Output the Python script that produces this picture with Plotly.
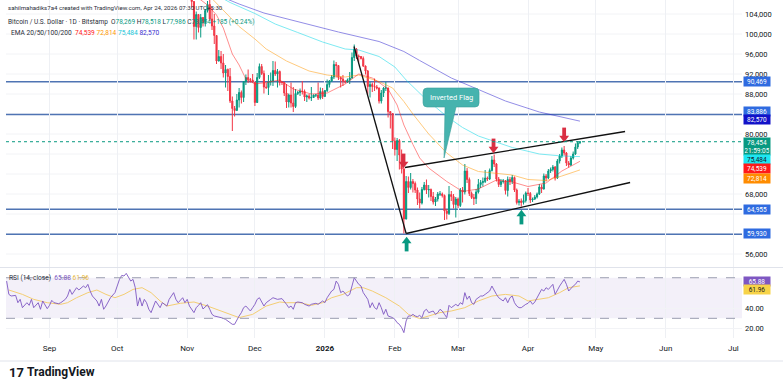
import plotly.graph_objects as go
import pandas as pd

W, H = 783, 388
FONT = "Roboto, 'Liberation Sans', Arial, sans-serif"

# ---------------- data: daily BTC/USD candles (thousands USD) ----------------
candle_start = "2025-11-01"
first_open_k = 109.6
closes_k = [
    110.1, 110.6, 106.5, 101.5, 103.9, 101.3, 103.3, 102.3, 104.7, 105.9, 103.0, 101.6, 99.7, 94.6, 95.5,
    94.2, 92.2, 92.9, 91.5, 86.6, 85.1, 84.7, 86.8, 88.3, 87.3, 90.5, 91.3, 90.9, 90.8, 90.4,
    86.3, 91.3, 93.5, 92.1, 89.4, 89.3, 90.4, 90.6, 92.7, 92.0, 92.5, 90.3, 90.3, 88.2, 86.4, 87.8,
    86.2, 85.5, 88.1, 88.3, 88.6, 88.5, 87.4, 87.6, 87.2, 87.3, 87.8, 87.8, 87.2, 88.5, 87.5,
    88.7, 89.9, 90.6, 91.4, 93.9, 93.7, 91.3, 91.0, 90.5, 90.4, 90.8, 91.2, 95.3, 97.0, 95.6, 95.5,
    95.1, 93.6, 92.6, 89.5, 89.9, 89.5, 89.4, 89.2, 86.6, 88.2, 89.2, 89.2, 84.5, 84.1, 78.6,
    76.9, 78.7, 75.8, 73.0, 63.0, 70.5, 69.3, 70.5, 70.1, 68.8, 67.0, 66.2, 68.9, 69.8, 68.8, 68.9,
    67.5, 66.4, 67.0, 68.0, 68.0, 67.7, 64.6, 64.1, 67.9, 67.5, 65.9, 67.0,
    65.7, 68.8, 68.4, 72.6, 70.9, 68.1, 67.3, 67.1, 68.4, 69.9, 70.3, 70.5, 71.2, 71.0, 72.7, 74.8,
    74.0, 71.0, 69.9, 70.5, 70.6, 68.7, 70.9, 70.5, 71.3, 68.8, 66.3, 66.6, 66.3, 66.7, 68.2,
    68.1, 66.8, 67.0, 67.4, 68.0, 69.4, 69.0, 71.6, 71.2, 72.6, 72.9, 73.4, 71.2, 74.6, 75.6, 76.8,
    76.2, 74.2, 73.8, 75.2, 76.0, 77.4, 78.269, 78.454,
]
highs_k = [
    110.6, 111.2, 110.8, 106.6, 104.5, 104.0, 104.0, 103.4, 105.0, 106.6, 107.0, 105.3, 104.0, 99.8, 96.8,
    96.6, 96.0, 93.8, 93.1, 93.2, 87.5, 85.6, 88.0, 89.2, 88.7, 90.6, 91.9, 92.9, 91.2, 92.0,
    90.4, 92.2, 94.1, 94.0, 92.7, 90.2, 91.8, 92.3, 94.6, 94.5, 93.0, 92.7, 90.6, 90.5, 90.0, 88.1,
    90.3, 89.4, 89.0, 88.6, 89.1, 90.6, 88.9, 87.9, 88.0, 89.4, 87.9, 88.0, 90.3, 89.3, 89.2,
    88.8, 90.9, 90.8, 91.8, 94.7, 94.4, 93.7, 91.5, 91.8, 90.8, 91.1, 92.4, 96.3, 97.9, 97.2, 95.9,
    95.6, 95.5, 93.7, 92.8, 90.4, 90.3, 91.1, 89.8, 89.3, 88.8, 89.4, 90.4, 89.3, 84.5, 84.2,
    79.3, 79.2, 79.0, 76.9, 73.3, 71.6, 71.5, 72.2, 71.0, 70.5, 69.3, 68.3, 69.4, 70.4, 70.9, 69.8,
    69.1, 68.4, 67.4, 68.4, 68.6, 68.3, 67.9, 65.0, 69.6, 68.6, 68.0, 67.4,
    67.3, 69.2, 69.4, 74.0, 73.2, 71.3, 68.5, 68.0, 69.0, 71.0, 70.8, 71.3, 72.8, 71.5, 73.1, 75.6,
    75.9, 74.2, 71.4, 71.0, 71.0, 70.8, 71.5, 71.4, 71.8, 71.5, 69.1, 67.0, 67.1, 67.9, 68.5,
    69.2, 68.4, 67.3, 67.8, 68.3, 70.0, 69.9, 72.1, 72.0, 73.0, 73.3, 73.8, 73.6, 75.0, 76.0, 77.3,
    77.6, 76.4, 74.6, 75.6, 76.5, 78.1, 78.6, 78.518,
]
lows_k = [
    109.4, 109.6, 105.3, 98.9, 98.9, 100.3, 99.3, 101.5, 101.5, 104.3, 102.6, 100.8, 98.0, 94.0, 94.5,
    93.0, 91.3, 89.3, 88.6, 86.2, 80.6, 83.5, 84.7, 85.3, 86.1, 86.4, 89.8, 90.2, 90.3, 90.3,
    85.6, 86.2, 91.0, 91.8, 88.1, 89.0, 87.8, 89.7, 89.6, 91.6, 89.3, 89.7, 89.8, 87.6, 85.2, 85.3,
    85.3, 84.4, 85.2, 87.8, 87.6, 87.9, 86.6, 86.4, 86.9, 86.6, 87.2, 87.4, 86.8, 86.9, 87.0,
    87.4, 88.4, 89.3, 90.4, 91.0, 91.3, 90.8, 89.3, 89.6, 90.1, 90.2, 90.0, 91.1, 94.6, 95.0, 94.3,
    94.9, 93.4, 91.9, 87.9, 87.3, 88.4, 88.6, 88.9, 86.1, 86.1, 87.4, 88.6, 83.3, 81.1, 77.0,
    75.7, 74.6, 72.9, 72.1, 60.1, 62.9, 68.2, 68.9, 68.3, 68.2, 65.8, 65.1, 65.9, 68.7, 68.0, 67.3,
    66.6, 65.9, 65.6, 66.5, 67.6, 67.3, 62.8, 62.9, 63.8, 66.6, 65.1, 63.3,
    65.2, 65.4, 66.3, 67.9, 70.2, 67.6, 67.0, 65.8, 66.0, 68.1, 69.2, 69.5, 70.2, 70.6, 70.8, 72.5,
    73.4, 70.5, 69.4, 69.4, 70.1, 67.9, 67.5, 69.8, 70.0, 68.4, 65.9, 65.7, 65.5, 65.9, 66.3,
    67.6, 66.2, 66.4, 66.8, 67.1, 67.8, 68.2, 68.9, 70.5, 71.0, 72.2, 72.5, 70.7, 71.0, 74.1, 75.2,
    75.7, 73.6, 73.3, 73.6, 74.9, 75.8, 77.0, 77.98,
]

# ---------------- EMA lines (thousands USD) ----------------
ema20_dates = ["2025-11-05", "2025-11-10", "2025-11-14", "2025-11-17", "2025-11-21", "2025-11-24", "2025-11-27",
               "2025-12-01", "2025-12-06", "2025-12-12", "2025-12-18", "2025-12-26", "2026-01-02", "2026-01-10",
               "2026-01-16", "2026-01-22", "2026-01-25", "2026-01-29", "2026-02-02", "2026-02-05", "2026-02-09",
               "2026-02-12", "2026-02-16", "2026-02-24", "2026-03-03", "2026-03-10", "2026-03-18", "2026-03-25",
               "2026-04-01", "2026-04-09", "2026-04-16", "2026-04-24"]
ema20_k = [107.5, 105.8, 103.8, 101.2, 96.0, 93.8, 91.0, 90.0, 90.3, 90.8, 89.0, 88.0, 88.2, 90.0,
           92.0, 91.2, 90.3, 89.0, 85.8, 81.8, 77.9, 75.2, 73.2, 70.5, 68.5, 69.0, 70.8, 70.4,
           69.5, 70.2, 72.6, 74.539]
ema50_dates = ["2025-11-10", "2025-11-17", "2025-11-24", "2025-12-01", "2025-12-06", "2025-12-15", "2025-12-25",
               "2026-01-02", "2026-01-10", "2026-01-16", "2026-01-25", "2026-01-31", "2026-02-05", "2026-02-09",
               "2026-02-16", "2026-02-24", "2026-03-03", "2026-03-10", "2026-03-18", "2026-03-25", "2026-04-01",
               "2026-04-09", "2026-04-16", "2026-04-24"]
ema50_k = [108.0, 104.8, 101.5, 99.0, 97.0, 94.6, 92.6, 91.8, 91.4, 91.8, 90.5, 89.2, 86.5, 84.0,
           80.0, 76.2, 73.8, 72.5, 72.2, 71.8, 70.9, 70.7, 71.6, 72.814]
ema100_dates = ["2025-11-05", "2025-11-20", "2025-12-01", "2025-12-10", "2025-12-20", "2025-12-31", "2026-01-10",
                "2026-01-16", "2026-01-25", "2026-02-01", "2026-02-06", "2026-02-14", "2026-02-24", "2026-03-03",
                "2026-03-10", "2026-03-18", "2026-03-25", "2026-04-06", "2026-04-16", "2026-04-24"]
ema100_k = [110.0, 106.3, 104.1, 102.0, 100.3, 98.4, 97.0, 96.8, 95.5, 93.4, 90.8, 87.3, 83.5, 81.3,
            79.6, 78.3, 77.3, 76.0, 75.6, 75.484]
ema200_dates = ["2025-11-10", "2025-11-24", "2025-12-05", "2025-12-21", "2026-01-07", "2026-01-25", "2026-02-05",
                "2026-02-12", "2026-02-26", "2026-03-10", "2026-03-22", "2026-04-06", "2026-04-24"]
ema200_k = [108.6, 106.0, 104.2, 102.3, 100.4, 98.5, 96.5, 94.7, 91.2, 88.9, 86.6, 84.4, 82.57]

rsi_origin = "2025-09-01"          # day offsets below are counted from this date
rsi_days = [-19, -18, -17, -15, -14, -13, -12, -10, -9, -8, -7, -5, -4, -3, -1, 0, 1, 2, 4, 5, 7, 8, 9, 10, 11, 12,
            13, 15, 16, 17, 18, 19, 21, 22, 23, 24, 25, 26, 27, 29, 30, 31, 32, 33, 34, 36, 37, 38, 39, 40, 41,
            42, 43, 44, 45, 46, 47, 49, 50, 52, 53, 54, 55, 56, 57, 59, 60, 61, 62, 64, 65, 66, 67, 68, 70, 71,
            72, 73, 75, 76, 78, 79, 81, 82, 83, 84, 85, 86, 87, 89, 90, 91, 92, 93, 95, 96, 98, 99, 101,
            103, 105, 106, 107, 108, 109, 110, 112, 113, 115, 116, 118, 119, 121, 122, 123, 124, 125, 126, 127,
            128, 129, 130, 132, 133, 134, 135, 136, 137, 138, 139, 141, 142, 143, 144, 145, 146, 147, 148, 149,
            150, 152, 153, 154, 155, 156, 157, 158, 159, 160, 161, 162, 163, 164, 165, 166, 167, 168, 170, 171,
            172, 173, 174, 175, 176, 177, 178, 180, 181, 182, 183, 184, 185, 186, 187, 188, 189, 191, 192, 193,
            195, 196, 197, 198, 199, 201, 202, 203, 204, 205, 206, 207, 208, 209, 211, 212, 213, 214, 215, 216,
            217, 218, 219, 220, 221, 223, 224, 225, 226, 227, 228, 229, 230, 232, 233, 234, 235]
rsi_vals = [66.7, 53.6, 52.0, 52.6, 45.4, 48.7, 40.5, 45.4, 42.8, 48.7, 40.5, 45.4, 38.9, 47.1, 39.5, 42.8, 47.7,
            45.4, 44.4, 45.4, 48.7, 52.0, 58.5, 53.6, 56.9, 60.2, 57.9, 61.8, 60.2, 63.5, 56.9, 52.0, 47.1,
            42.1, 48.7, 38.9, 42.1, 47.1, 50.3, 55.3, 61.8, 68.4, 72.3, 71.7, 74.3, 66.7, 68.4, 60.2, 42.1,
            50.3, 42.1, 48.7, 45.4, 38.9, 35.6, 42.1, 47.1, 40.5, 45.4, 42.1, 48.7, 52.0, 55.3, 48.7, 45.4,
            50.3, 45.4, 48.7, 42.1, 35.6, 40.5, 42.8, 45.4, 39.2, 43.4, 38.9, 33.9, 32.3, 31.6, 30.7, 29.0,
            27.4, 24.1, 24.1, 29.0, 32.3, 35.6, 40.5, 42.1, 37.2, 40.5, 43.8, 48.7, 50.3, 42.1, 45.4, 48.7,
            50.3, 48.7,
            49.4, 43.8, 40.5, 42.1, 38.9, 45.4, 46.1, 45.4, 43.8, 42.1, 43.8, 44.8, 43.8, 47.1, 45.4, 50.3,
            53.6, 56.9, 58.5, 66.7, 63.5, 55.3, 56.9, 52.0, 53.6, 61.8, 70.0, 66.7, 63.5, 61.8, 55.3, 48.7,
            40.5, 45.4, 40.5, 38.9, 45.4, 40.5, 33.9, 38.9, 32.3, 30.7, 29.0, 25.7, 24.1, 20.8, 15.9, 27.4,
            32.3, 32.3, 33.9, 32.3, 31.6, 32.9, 30.7, 37.2, 38.9, 35.6, 37.2, 33.9, 35.6, 38.9, 37.2, 33.9,
            30.7, 42.8, 40.5, 43.8, 42.1, 45.4, 43.8, 55.3, 48.7, 52.0, 45.4, 43.8, 48.7, 52.0, 52.0, 53.6,
            56.9, 61.8, 56.9, 53.6, 50.3, 47.1, 50.3, 45.4, 50.3, 52.0, 45.4, 42.1, 40.5, 40.5, 43.8, 44.8,
            47.1, 43.8, 46.1, 50.3, 55.3, 58.5, 56.9, 60.2, 58.5, 63.5, 53.6, 58.5, 61.8, 65.1, 68.4, 63.5,
            56.9, 61.8, 63.5, 66.7, 65.88]
rsima_days = [-18, -12, -7, -1, 5, 8, 12, 17, 21, 25, 29, 33, 37, 41, 45, 49, 52, 58, 64, 70, 76, 82, 84, 90, 96,
              102, 105, 111, 116, 121, 125, 130, 136, 139, 143, 149, 155, 159, 164, 168, 173, 178, 184, 190,
              196, 202, 208, 212, 217, 221, 226, 230, 235]
rsima_vals = [57.9, 53.6, 48.7, 45.4, 43.8, 45.4, 50.3, 55.3, 57.9, 53.6, 50.3, 53.6, 58.5, 60.2, 55.3, 47.1,
              42.1, 44.8, 46.1, 42.1, 37.2, 32.3, 30.7, 33.9, 42.1, 46.1, 45.4, 45.4, 42.8, 45.4, 50.3, 53.6,
              60.2, 60.2, 56.9, 50.3, 42.1, 33.9, 29.7, 32.3, 35.6, 37.2, 40.5, 47.1, 52.0, 53.6, 52.0, 47.1,
              48.7, 50.3, 55.3, 60.2, 61.96]

# ---------------- levels, labels, ticks ----------------
level_prices = [90469, 83886, 64955, 59930]
last_close = 78454
ema_last = [74539, 72814, 75484, 82570]
rsi_last, rsima_last = 65.88, 61.96

month_ticks = ["2025-09-01", "2025-10-01", "2025-11-01", "2025-12-01", "2026-01-01", "2026-02-01",
               "2026-03-01", "2026-04-01", "2026-05-01", "2026-06-01", "2026-07-01"]
month_labels = ["Sep", "Oct", "Nov", "Dec", "<b>2026</b>", "Feb", "Mar", "Apr", "May", "Jun", "Jul"]
grid_prices = [56000, 60000, 64000, 68000, 72000, 76000, 80000, 84000, 88000, 92000, 96000, 100000, 104000]
price_ticks = [56000, 68000, 80000, 88000, 92000, 96000, 100000, 104000]   # others hidden by price labels
rsi_ticks = [20, 40]

# ---------------- drawings (date, price) ----------------
steep_line_x = ["2026-01-13 22:00", "2026-02-06 00:00"]
steep_line_y = [97500, 60100]
flag_upper_x = ["2026-02-05 12:00", "2026-05-14 00:00"]
flag_upper_y = [73300, 80500]
flag_lower_x = ["2026-02-06 00:00", "2026-05-16 05:00"]
flag_lower_y = [60100, 70300]
down_arrow_x = ["2026-02-04 20:00", "2026-03-16 17:00", "2026-04-17 00:00"]
down_arrow_tip = [73200, 76200, 78400]
up_arrow_x = ["2026-02-06 05:00", "2026-03-29 02:00"]
up_arrow_tip = [59400, 64800]
callout_tip = ("2026-02-22 19:00", 75200)

# ---------------- colours ----------------
UP, DN = "#089981", "#f23645"
GRID = "#eef0f4"
LEVEL = "#4f74b3"
C20, C50, C100, C200 = "#ff2020", "#ff9800", "#00d8e8", "#2a1fd0"

# ---------------- pane geometry ----------------
PRICE_RANGE = [53400, 106800]
PRICE_PANE_PX = 267
PRICE_PER_PX = (PRICE_RANGE[1] - PRICE_RANGE[0]) / PRICE_PANE_PX

# ---------------- build ----------------
dates = pd.date_range(candle_start, periods=len(closes_k), freq="D")
closes = [c * 1000 for c in closes_k]
highs = [h * 1000 for h in highs_k]
lows = [l * 1000 for l in lows_k]
opens = [first_open_k * 1000] + closes[:-1]

rsi_x = pd.Timestamp(rsi_origin) + pd.to_timedelta(rsi_days, unit="D")
rsima_x = pd.Timestamp(rsi_origin) + pd.to_timedelta(rsima_days, unit="D")

fig = go.Figure()

for d, v, c in [(ema200_dates, ema200_k, C200), (ema100_dates, ema100_k, C100),
                (ema50_dates, ema50_k, C50), (ema20_dates, ema20_k, C20)]:
    fig.add_trace(go.Scatter(x=d, y=[k * 1000 for k in v], mode="lines", line=dict(color=c, width=1),
                             opacity=0.5, xaxis="x", yaxis="y", hoverinfo="skip"))

fig.add_trace(go.Candlestick(
    x=dates, open=opens, high=highs, low=lows, close=closes, whiskerwidth=0,
    increasing=dict(line=dict(color=UP, width=1), fillcolor=UP),
    decreasing=dict(line=dict(color=DN, width=1), fillcolor=DN),
    xaxis="x", yaxis="y", hoverinfo="skip"))

for lx, ly in [(steep_line_x, steep_line_y), (flag_upper_x, flag_upper_y), (flag_lower_x, flag_lower_y)]:
    fig.add_trace(go.Scatter(x=lx, y=ly, mode="lines", line=dict(color="#111111", width=1.3),
                             xaxis="x", yaxis="y", hoverinfo="skip"))


def add_arrows(xs, tips, direction, color):
    s = 1 if direction == "down" else -1
    head_y = [t + s * 4 * PRICE_PER_PX for t in tips]
    stem_y = [t + s * 9.5 * PRICE_PER_PX for t in tips]
    fig.add_trace(go.Scatter(x=xs, y=stem_y, mode="markers", xaxis="x", yaxis="y", hoverinfo="skip",
                             marker=dict(symbol="line-ns", size=7, line=dict(color=color, width=3.8))))
    fig.add_trace(go.Scatter(x=xs, y=head_y, mode="markers", xaxis="x", yaxis="y", hoverinfo="skip",
                             marker=dict(symbol="triangle-down" if s == 1 else "triangle-up", size=8.5,
                                         color=color, line=dict(width=0))))


add_arrows(down_arrow_x, down_arrow_tip, "down", "#d92f43")
add_arrows(up_arrow_x, up_arrow_tip, "up", "#089981")

fig.add_trace(go.Scatter(x=rsima_x, y=rsima_vals, mode="lines", line=dict(color="#f5c95c", width=1),
                         opacity=0.85, xaxis="x2", yaxis="y2", hoverinfo="skip"))
fig.add_trace(go.Scatter(x=rsi_x, y=rsi_vals, mode="lines", line=dict(color="#7e57c2", width=0.9),
                         xaxis="x2", yaxis="y2", hoverinfo="skip"))

shapes = []
for gp in grid_prices:
    shapes.append(dict(type="line", xref="x domain", yref="y", x0=0, x1=1, y0=gp, y1=gp,
                       line=dict(color="#f2f3f6", width=1), layer="below"))
for lv in level_prices:
    shapes.append(dict(type="line", xref="x domain", yref="y", x0=0, x1=1, y0=lv, y1=lv,
                       line=dict(color=LEVEL, width=1.5), layer="below"))
shapes.append(dict(type="line", xref="x domain", yref="y", x0=0, x1=1, y0=last_close, y1=last_close,
                   line=dict(color=UP, width=1, dash="dot")))
shapes.append(dict(type="rect", xref="x2 domain", yref="y2", x0=0, x1=1, y0=30, y1=70,
                   fillcolor="rgba(126,87,194,0.09)", line=dict(width=0), layer="below"))
for lv in (30, 70):
    shapes.append(dict(type="line", xref="x2 domain", yref="y2", x0=0, x1=1, y0=lv, y1=lv,
                       line=dict(color="#9a9cb0", width=1, dash="dash")))
shapes.append(dict(type="line", xref="paper", yref="paper", x0=0, x1=1, y0=1 - 267.5 / H, y1=1 - 267.5 / H,
                   line=dict(color="#e0e3eb", width=1)))
shapes.append(dict(type="line", xref="paper", yref="paper", x0=0, x1=1, y0=1 - 361 / H, y1=1 - 361 / H,
                   line=dict(color="#e0e3eb", width=1)))

L, R, B, T, r = -21, 35, 51, 70, 4
callout = (f"M{L + r},{B} L1,{B} L0,0 L12,{B} L{R - r},{B} Q{R},{B} {R},{B + r} L{R},{T - r} "
           f"Q{R},{T} {R - r},{T} L{L + r},{T} Q{L},{T} {L},{T - r} L{L},{B + r} Q{L},{B} {L + r},{B} Z")
shapes.append(dict(type="path", xref="x", yref="y", xsizemode="pixel", ysizemode="pixel",
                   xanchor=callout_tip[0], yanchor=callout_tip[1], path=callout,
                   fillcolor="#46b3ae", line=dict(color="#3a9f9a", width=0.6)))

ann = []


def txt(x, y, text, size=7, color="#131722", anchor="left", **kw):
    ann.append(dict(xref="paper", yref="paper", x=x / W, y=1 - y / H, text=text, showarrow=False,
                    xanchor=anchor, yanchor="middle", font=dict(size=size, color=color, family=FONT), **kw))


txt(6, 7, "sahilmahadiks7a4 created with TradingView.com, Apr 24, 2026 07:30 UTC+5:30", size=6.1,
    color="#2a2e39")
g = lambda s: f"<span style='color:{UP}'>{s}</span>"
txt(6, 22, "Bitcoin / U.S. Dollar · 1D · Bitstamp  O" + g("78,269") + " H" + g("78,518") + " L" + g("77,986")
    + " C" + g("78,454") + " " + g("+185 (+0.24%)"), size=6.5, color="#2a2e39")
txt(9, 33, "EMA 20/50/100/200  " + f"<span style='color:#ff2020'>{ema_last[0]:,}</span> "
    + f"<span style='color:#ff9800'>{ema_last[1]:,}</span> "
    + f"<span style='color:#18c6d8'>{ema_last[2]:,}</span> "
    + f"<span style='color:#3a30d0'>{ema_last[3]:,}</span>", size=6.6, color="#2a2e39")
txt(7, 278, f"RSI (14, close)  <span style='color:#7e57c2'>{rsi_last:.2f}</span> "
    f"<span style='color:#e8b93a'>{rsima_last:.2f}</span>", size=6.6, color="#2a2e39")

ann.append(dict(xref="x", yref="y", x=callout_tip[0], y=callout_tip[1], xshift=7, yshift=60.5,
                text="Inverted Flag", showarrow=False, font=dict(size=7.5, color="white", family=FONT)))


def price_label(value, text, bg, fg="white", shift=0.0, yref="y", anchor="middle"):
    ann.append(dict(xref="paper", yref=yref, x=743 / W, y=value, yshift=shift, text=text, showarrow=False,
                    xanchor="left", yanchor=anchor, bgcolor=bg, width=25, borderpad=0.5, align="center",
                    font=dict(size=6.5, color=fg, family=FONT)))


price_label(level_prices[0], f"{level_prices[0]:,}", "#2f6be0")
price_label(level_prices[1], f"{level_prices[1]:,}", "#2f6be0", shift=3.3)
price_label(ema_last[3], f"{ema_last[3]:,}", "#1212c8", shift=1.5)
price_label(last_close, f"{last_close:,}<br>21:59:05", UP, shift=-4.3)
price_label(ema_last[2], f"{ema_last[2]:,}", "#1ee6f2", fg="#131722", shift=-3)
price_label(ema_last[0], f"{ema_last[0]:,}", "#ff1a1a", shift=-7.2)
price_label(ema_last[1], f"{ema_last[1]:,}", "#ff8c00", shift=-8.6)
price_label(level_prices[2], f"{level_prices[2]:,}", "#2f6be0")
price_label(level_prices[3], f"{level_prices[3]:,}", "#2f6be0", shift=0.8)
price_label(rsi_last, f"{rsi_last:.2f}", "#7e57c2", yref="y2", shift=0.9)
price_label(rsima_last, f"{rsima_last:.2f}", "#f7d348", fg="#131722", yref="y2", shift=-4)

txt(7, 372, "<b>17</b>", size=13, color="#131722")
txt(25, 372, "<b>TradingView</b>", size=12, color="#131722")

x_range = ["2025-08-12 17:30", "2026-07-04 19:00"]
dom_x = [6 / W, 742 / W]
axis_font = dict(size=7.5, color="#131722", family=FONT)

fig.update_layout(
    width=W, height=H, margin=dict(l=0, r=0, t=0, b=0),
    paper_bgcolor="white", plot_bgcolor="white", showlegend=False,
    shapes=shapes, annotations=ann,
    xaxis=dict(domain=dom_x, range=x_range, type="date", anchor="y", showticklabels=False,
               tickvals=month_ticks, showgrid=True, gridcolor=GRID, zeroline=False, showline=False,
               rangeslider=dict(visible=False), fixedrange=True),
    xaxis2=dict(domain=dom_x, range=x_range, type="date", anchor="y2", tickvals=month_ticks,
                ticktext=month_labels, showgrid=True, gridcolor=GRID,
                tickfont=dict(size=8, color="#131722", family=FONT),
                ticks="", ticklabelstandoff=4, zeroline=False, showline=False),
    yaxis=dict(domain=[1 - PRICE_PANE_PX / H, 1], range=PRICE_RANGE, side="right", anchor="x",
               tickvals=price_ticks, ticktext=[f"{v:,}" for v in price_ticks], tickfont=axis_font,
               showgrid=False, zeroline=False, showline=False, ticks="", ticklabelstandoff=2),
    yaxis2=dict(domain=[1 - 338 / H, 1 - 268 / H], range=[10.6, 79.6], side="right", anchor="x2",
                tickvals=rsi_ticks, ticktext=[f"{v:.2f}" for v in rsi_ticks], tickfont=axis_font,
                showgrid=True, gridcolor="#f2f3f6", zeroline=False, showline=False, ticks="",
                ticklabelstandoff=2),
)

fig.write_html("out.html", config={"displayModeBar": False},
               post_script="document.body.style.margin='0px';")
